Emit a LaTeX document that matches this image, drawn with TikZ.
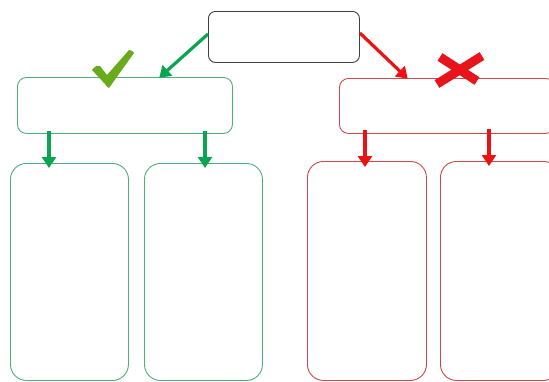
\documentclass[tikz,border=0pt]{standalone}
\usetikzlibrary{arrows.meta,calc}
\definecolor{boxgreen}{HTML}{4DAF7C}
\definecolor{boxred}{HTML}{D0474B}
\definecolor{arrgreen}{HTML}{0AA550}
\definecolor{arrred}{HTML}{EE1111}
\definecolor{tickgreen}{HTML}{6AAB1E}
\definecolor{crossred}{HTML}{E8141C}
\tikzset{
  topbox/.style={draw=black!75, line width=0.9pt, rounded corners=7pt, anchor=north west, inner sep=0pt},
  gbox/.style={draw=boxgreen, line width=0.9pt, anchor=north west, inner sep=0pt},
  rbox/.style={draw=boxred, line width=0.9pt, anchor=north west, inner sep=0pt},
  garrow/.style={draw=arrgreen, line width=3.2pt, -{Triangle[width=14pt,length=11pt]}},
  rarrow/.style={draw=arrred, line width=3.2pt, -{Triangle[width=14pt,length=11pt]}},
}
\begin{document}
\begin{tikzpicture}[x=1pt,y=-1pt]
\useasboundingbox (0,0) rectangle (549,381);
\clip (0,0) rectangle (549,381);
\fill[white] (0,0) rectangle (549,381);

% top box
\node[topbox, minimum width=151pt, minimum height=51pt] (top) at (208,11) {};

% middle row
\node[gbox, rounded corners=9pt, minimum width=215pt, minimum height=56pt] (lmid) at (17,77) {};
\node[rbox, rounded corners=9pt, minimum width=215pt, minimum height=55pt] (rmid) at (339,78) {};

% bottom row
\node[gbox, rounded corners=16pt, minimum width=118pt, minimum height=217pt] (b1) at (10,163) {};
\node[gbox, rounded corners=16pt, minimum width=118pt, minimum height=217pt] (b2) at (144,163) {};
\node[rbox, rounded corners=16pt, minimum width=119pt, minimum height=219pt] (b3) at (307,161) {};
\node[rbox, rounded corners=16pt, minimum width=119pt, minimum height=219pt] (b4) at (440,161) {};

% connectors
\coordinate (gl) at ($(lmid.north west)+(143,0)$);
\coordinate (rl) at ($(rmid.north west)+(68,0)$);
\draw[garrow, shorten >=-1pt] ([yshift=-23pt]top.north west) -- (gl);
\draw[rarrow, shorten >=-1pt] ([yshift=-22pt]top.north east) -- (rl);

\draw[garrow] ($(lmid.south west)+(32,-3)$) -- ($(b1.north west)+(39,5)$);
\draw[garrow] ($(lmid.south west)+(188,-3)$) -- ($(b2.north west)+(61,5)$);
\draw[rarrow] ($(rmid.south west)+(26,-4)$) -- ($(b3.north west)+(58,6)$);
\draw[rarrow] ($(rmid.south west)+(150,-5)$) -- ($(b4.north west)+(49,5)$);

% tick mark
\fill[tickgreen] (92,70) .. controls (95,66) and (98,65) .. (100,66)
  -- (107,75) -- (129,50) .. controls (131,50) and (133,51) .. (134,53)
  -- (109,88) .. controls (107,87) and (106,86) .. (105,84) -- cycle;

% cross mark
\draw[crossred, line width=9pt, line cap=butt] (437,84) -- (482,56);
\draw[crossred, line width=9pt, line cap=butt] (440,57) -- (477,81);
\end{tikzpicture}
\end{document}
